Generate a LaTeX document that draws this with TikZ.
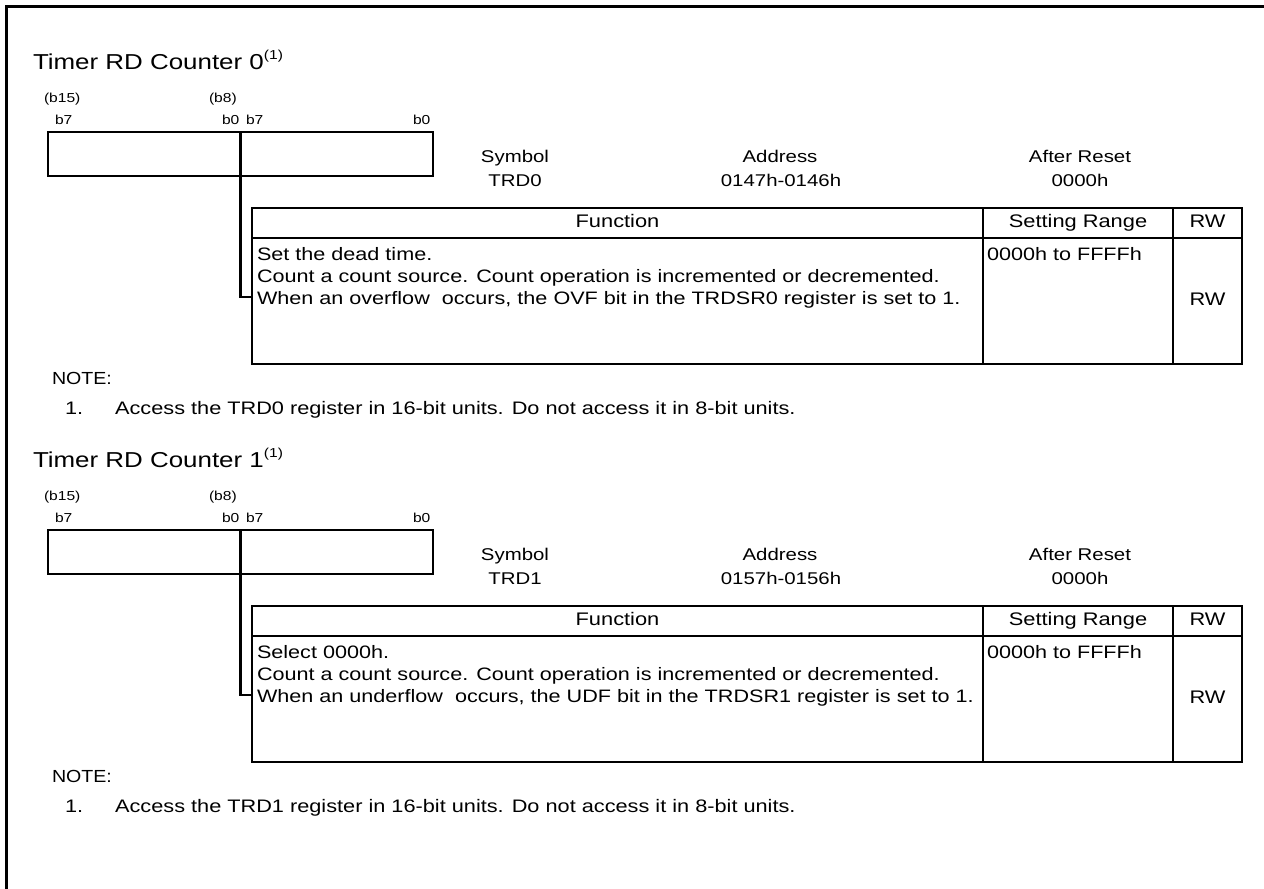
\documentclass[tikz,border=0pt]{standalone}
\usepackage{fontspec}
\setmainfont{Liberation Sans}
\newfontfamily\wf[FakeStretch=1.2]{Liberation Sans}
\newfontfamily\nf[FakeStretch=1.12]{Liberation Sans}
\tikzset{
  frame/.style={line width=3pt},
  box/.style={draw, line width=2.5pt, inner sep=0pt, outer sep=0pt, anchor=north west},
  link/.style={line width=2.5pt},
  txt/.style={inner sep=0pt, outer sep=0pt},
  ttl/.style={txt, anchor=base west, font=\wf\fontsize{21.6}{22}\selectfont},
  bit/.style={txt, anchor=base west, font=\wf\fontsize{13}{13}\selectfont},
  hdr/.style={txt, anchor=base, font=\wf\fontsize{17}{17}\selectfont},
  cell/.style={font=\wf\fontsize{18.2}{18.2}\selectfont, text height=13.5pt, text depth=3.8pt},
  celltxt/.style={txt, anchor=base west, font=\wf\fontsize{18}{18}\selectfont},
  note/.style={txt, anchor=base west, font=\wf\fontsize{18.1}{18.1}\selectfont},
  notehd/.style={txt, anchor=base west, font=\nf\fontsize{17.5}{17.5}\selectfont},
}
% #1 prefix, #2 offset, #3 counter no, #4 symbol, #5 address, #6 first line, #7 third line
\newcommand\RegBlock[7]{%
  \node[ttl] (#1title) at (33,69+#2) {Timer RD Counter #3\raisebox{10pt}{\wf\fontsize{13}{13}\selectfont(1)}};
  \node[bit] (#1b15) at (44,102+#2) {(b15)};
  \node[bit] (#1b8) at (209,102+#2) {(b8)};
  \node[bit] (#1b7a) at (55,124+#2) {b7};
  \node[bit] (#1b0a) at (222,124+#2) {b0};
  \node[bit] (#1b7b) at (246,124+#2) {b7};
  \node[bit] (#1b0b) at (413,124+#2) {b0};
  \node[box, minimum width=385pt, minimum height=44pt] (#1reg) at (48,132+#2) {};
  \node[hdr] (#1symh) at (515,162+#2) {Symbol};
  \node[hdr] (#1sym) at (515,186+#2) {#4};
  \node[hdr] (#1addrh) at (780,162+#2) {Address};
  \node[hdr] (#1addr) at (781,186+#2) {#5};
  \node[hdr] (#1rsth) at (1080,162+#2) {After Reset};
  \node[hdr] (#1rst) at (1080,186+#2) {0000h};
  \node[box, cell, minimum width=731pt, minimum height=30pt] (#1fh) at (252,208+#2) {Function};
  \node[box, cell, minimum width=190pt, minimum height=30pt] (#1sh) at (983,208+#2) {Setting Range};
  \node[box, cell, minimum width=69pt, minimum height=30pt] (#1rh) at (1173,208+#2) {RW};
  \node[box, minimum width=731pt, minimum height=126pt] (#1fb) at (252,238+#2) {};
  \node[box, minimum width=190pt, minimum height=126pt] (#1sb) at (983,238+#2) {};
  \node[box, cell, minimum width=69pt, minimum height=126pt] (#1rb) at (1173,238+#2) {RW};
  \node[celltxt] (#1l1) at (257,260+#2) {#6};
  \node[celltxt] (#1l2) at (257,282+#2) {Count a count source. Count operation is incremented or decremented.};
  \node[celltxt] (#1l3) at (257,304+#2) {#7};
  \node[celltxt] (#1rng) at (987,260+#2) {0000h to FFFFh};
  \coordinate (#1turn) at (240.5,297+#2);
  \draw[link] (#1reg.north) -- (#1turn) -- (#1turn -| #1fb.west);
  \node[notehd] (#1nh) at (52,384+#2) {NOTE:};
  \node[note] (#1n1) at (65,414+#2) {1.\hspace{32pt}Access the #4 register in 16-bit units. Do not access it in 8-bit units.};
}
\begin{document}
\begin{tikzpicture}[x=1pt, y=-1pt]
  \useasboundingbox (0,0) rectangle (1264,889);
  \draw[frame] (6.5,889) -- (6.5,6.5) -- (1264,6.5);
  \RegBlock{a-}{0}{0}{TRD0}{0147h-0146h}{Set the dead time.}{When an overflow\ \ occurs, the OVF bit in the TRDSR0 register is set to 1.}
  \RegBlock{b-}{398}{1}{TRD1}{0157h-0156h}{Select 0000h.}{When an underflow\ \ occurs, the UDF bit in the TRDSR1 register is set to 1.}
\end{tikzpicture}
\end{document}
